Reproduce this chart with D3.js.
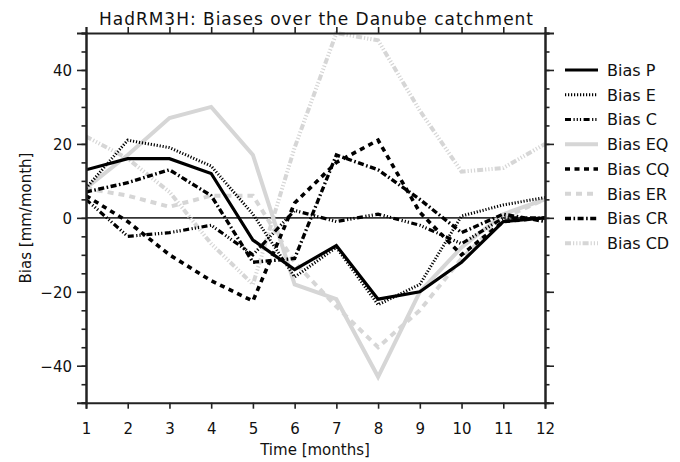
<!DOCTYPE html>
<html>
<head>
<meta charset="utf-8">
<script src="https://cdn.jsdelivr.net/npm/d3@7"></script>
<style>
  body { margin: 0; background: #fff; }
  svg { display: block; font-family: "DejaVu Sans", sans-serif; }
</style>
</head>
<body>
<svg id="chart" width="680" height="462"></svg>
<script>
// months on the x axis
var months = [1, 2, 3, 4, 5, 6, 7, 8, 9, 10, 11, 12];
var yMajorTicks = [-40, -20, 0, 20, 40];

// bias series (mm/month)
var biasP  = [13, 16, 16, 12, -6, -14, -7.5, -22, -20, -12, -1, 0];
var biasE  = [8, 21, 19, 14, 1, -16, -8, -23.5, -18, 0.5, 3.5, 5.5];
var biasC  = [5, -5, -4, -2, -10, 2, -1, 1, -2, -7, 0, 0];
var biasEQ = [8, 17, 27, 30, 17, -18, -22, -43, -20, -8, 1, 5];
var biasCQ = [6, -1, -10, -17, -22.5, 4, 15, 21, 1.5, -10, -1, 0];
var biasER = [8, 6, 3, 6, 6, -12, -24, -35, -25, -11, 0, 5];
var biasCR = [7, 9.5, 13, 6, -12, -11, 17, 13, 5, -4, 1, -1];
var biasCD = [22, 16, 7, -7, -18, 19, 50, 48, 29, 12.5, 13.5, 20];

var seriesNames = ["Bias P", "Bias E", "Bias C", "Bias EQ", "Bias CQ", "Bias ER", "Bias CR", "Bias CD"];

var grey = "#d6d6d6";
var styles = [
  { color: "#000", width: 3.2, dash: null },
  { color: "#000", width: 3, dash: "1.2,1.8" },
  { color: "#000", width: 3.2, dash: "6,2.5,1.2,2,1.2,2,1.2,2.5" },
  { color: grey, width: 4, dash: null },
  { color: "#000", width: 3.6, dash: "5,4.5" },
  { color: grey, width: 4, dash: "6,5" },
  { color: "#000", width: 3.4, dash: "6,2.5,1.6,2.5" },
  { color: grey, width: 4, dash: "6,2,1.2,2,1.2,2,1.2,2" }
];
var allSeries = [biasP, biasE, biasC, biasEQ, biasCQ, biasER, biasCR, biasCD];

var svg = d3.select("#chart");
var plotLeft = 86, plotRight = 545, plotTop = 33, plotBottom = 402.7;

var x = d3.scaleLinear().domain([1, 12]).range([plotLeft, plotRight]);
var y = d3.scaleLinear().domain([-50, 50]).range([plotBottom, plotTop]);

var minorTicks = d3.range(-50, 51, 5);

// clip so lines stay inside the frame
svg.append("clipPath").attr("id", "plotclip")
  .append("rect")
  .attr("x", plotLeft).attr("y", plotTop - 2)
  .attr("width", plotRight - plotLeft).attr("height", plotBottom - plotTop + 4);

// zero line
svg.append("line")
  .attr("x1", plotLeft).attr("x2", plotRight)
  .attr("y1", y(0)).attr("y2", y(0))
  .style("stroke", "#333")
  .style("stroke-width", 1.6);

var line = d3.line()
  .x(function(d, i) { return x(months[i]); })
  .y(function(d) { return y(d); });

var plot = svg.append("g").attr("clip-path", "url(#plotclip)");
// grey ones first, black on top
var order = [3, 5, 7, 0, 1, 2, 4, 6];
order.forEach(function(i) {
  plot.append("path")
    .datum(allSeries[i])
    .attr("d", line)
    .style("fill", "none")
    .style("stroke", styles[i].color)
    .style("stroke-width", styles[i].width)
    .style("stroke-dasharray", styles[i].dash)
    .style("stroke-linejoin", "miter");
});

function styleAxis(g) {
  g.select(".domain").style("stroke", "#222").style("stroke-width", 2);
  g.selectAll(".tick line").style("stroke", "#222").style("stroke-width", 1.6);
  g.selectAll(".tick text").style("font-size", "15px").style("fill", "#111")
    .style("font-family", "DejaVu Sans, sans-serif");
}

// left axis
var yLeft = svg.append("g").attr("transform", "translate(" + plotLeft + ",0)")
  .call(d3.axisLeft(y).tickValues(minorTicks).tickSize(4.5).tickFormat(""));
styleAxis(yLeft);
var yLeftMajor = svg.append("g").attr("transform", "translate(" + plotLeft + ",0)")
  .call(d3.axisLeft(y).tickValues(yMajorTicks).tickSize(9).tickPadding(5));
styleAxis(yLeftMajor);
yLeftMajor.selectAll(".tick text").attr("dy", "0.36em");

// right axis
var yRight = svg.append("g").attr("transform", "translate(" + plotRight + ",0)")
  .call(d3.axisRight(y).tickValues(minorTicks).tickSize(4.5).tickFormat(""));
styleAxis(yRight);
var yRightMajor = svg.append("g").attr("transform", "translate(" + plotRight + ",0)")
  .call(d3.axisRight(y).tickValues(yMajorTicks).tickSize(9).tickFormat(""));
styleAxis(yRightMajor);

// bottom axis
var xBottom = svg.append("g").attr("transform", "translate(0," + plotBottom + ")")
  .call(d3.axisBottom(x).tickValues(months).tickSize(6).tickPadding(15).tickFormat(d3.format("d")));
styleAxis(xBottom);

// top axis
var xTop = svg.append("g").attr("transform", "translate(0," + plotTop + ")")
  .call(d3.axisTop(x).tickValues(months).tickSize(6).tickFormat(""));
styleAxis(xTop);

// title
svg.append("text")
  .attr("x", 316).attr("y", 25)
  .attr("text-anchor", "middle")
  .attr("textLength", 434)
  .attr("lengthAdjust", "spacing")
  .style("font-size", "17px")
  .style("fill", "#111")
  .text("HadRM3H: Biases over the Danube catchment");

// axis titles
svg.append("text")
  .attr("x", 315).attr("y", 455)
  .attr("text-anchor", "middle")
  .style("font-size", "15px")
  .style("fill", "#111")
  .text("Time [months]");

svg.append("text")
  .attr("transform", "translate(31,218) rotate(-90)")
  .attr("text-anchor", "middle")
  .style("font-size", "15px")
  .style("fill", "#111")
  .text("Bias [mm/month]");

// legend
var legend = svg.append("g");
seriesNames.forEach(function(name, i) {
  var ly = 70 + i * 24.75;
  legend.append("line")
    .attr("x1", 565).attr("x2", 598)
    .attr("y1", ly).attr("y2", ly)
    .style("stroke", styles[i].color)
    .style("stroke-width", styles[i].width)
    .style("stroke-dasharray", styles[i].dash);
  legend.append("text")
    .attr("x", 607).attr("y", ly)
    .attr("dy", "0.36em")
    .style("font-size", "16px")
    .style("fill", "#111")
    .text(name);
});
</script>
</body>
</html>
